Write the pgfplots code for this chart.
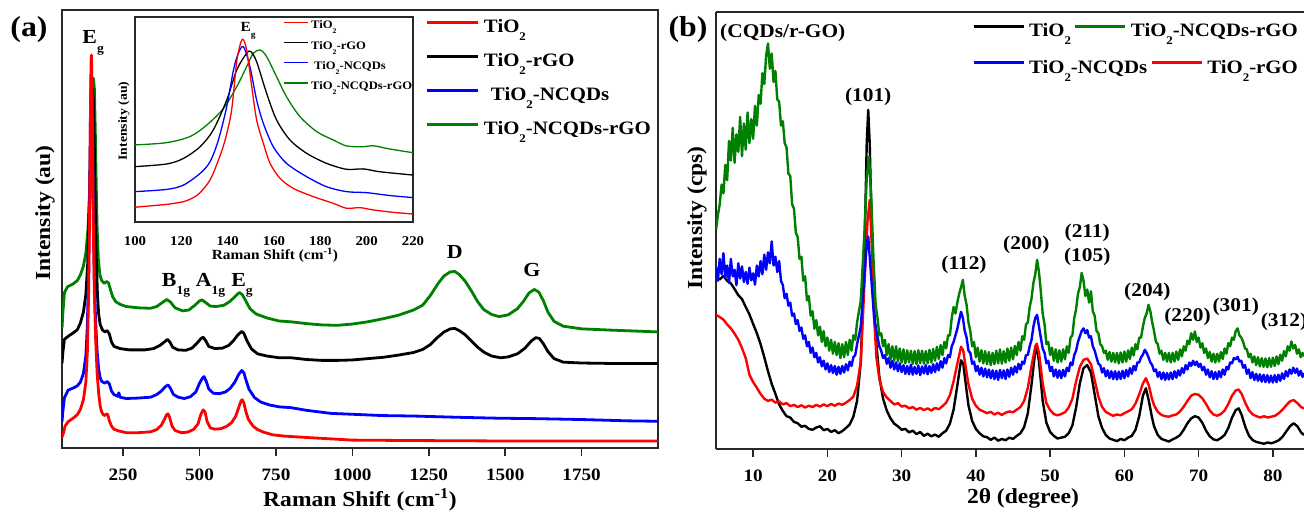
\documentclass[border=0pt]{standalone}
\usepackage{fontspec}
\setmainfont{Liberation Serif}[FakeStretch=1.1]
\usepackage{graphicx}
\usepackage{pgfplots}
\pgfplotsset{compat=1.18}
\newcommand\fs[1]{\fontsize{#1}{#1}\selectfont\bfseries}
\newcommand\sub[1]{\raisebox{-0.42em}{\scalebox{0.62}{#1}}}
\definecolor{ogreen}{RGB}{0,128,0}
\definecolor{frame}{RGB}{40,40,40}
\begin{document}
\begin{tikzpicture}[x=1bp,y=1bp]
\useasboundingbox (0,0) rectangle (1304,513);
\pgfplotsset{
  base/.style={anchor=south west, scale only axis, clip mode=individual,
    ymin=0, ymax=100, ytick=\empty, tick align=outside, major tick length=8bp,
    tick style={line width=1.6bp, frame},
    axis line style={line width=1.6bp, frame},
    xticklabel style={font=\fs{17.5}, yshift=-9bp},
    legend cell align=left},
}
% ---------------- panel (a) main ----------------
\begin{axis}[base, at={(62bp,65bp)}, width=596bp, height=438bp,
  xmin=50, xmax=2000, xtick pos=bottom,
  xtick={250,500,750,1000,1250,1500,1750},
  xticklabels={250,500,750,1000,1250,1500,1750},
  legend style={at={(0.6107,0.978)}, anchor=north west, draw=none, fill=none,
    inner sep=0pt, outer sep=0pt, row sep=16bp, column sep=4bp, font=\fs{19},
    nodes={inner sep=0pt, text height=13bp, text depth=5bp}},
  legend image code/.code={\draw[#1] (0bp,6.5bp) -- (51bp,6.5bp);}]
\addplot[forget plot, ogreen, line width=2.8bp, line join=round] coordinates {
(50,27.3)(53,31)(58,35.5)(68,36.8)(85,37.4)(100,38.2)(110,39.5)(120,41.5)(128,44.5)(135,50)(141,60)(146,72)(150,81)(153,84.4)(156,82)(159,72)(162,60)(165,50)(169,43)(174,39.5)(180,38.2)(188,37.6)(196,38.0)(202,37.7)(208,36.3)(216,34.5)(226,33.4)(240,32.8)(260,32.3)(300,32.0)(340,31.9)(360,32.3)(378,33.2)(393,33.9)(405,33.3)(420,32.0)(445,31.3)(465,31.5)(485,32.6)(500,33.6)(508,33.8)(520,33.2)(535,32.4)(555,32.3)(580,32.6)(600,33.5)(615,34.5)(630,35.5)(640,35.0)(652,33.5)(665,31.8)(685,30.6)(720,29.7)(760,29.0)(800,28.8)(850,28.4)(900,28.1)(950,28.0)(1000,28.3)(1050,28.8)(1100,29.5)(1150,30.3)(1200,31.5)(1230,32.6)(1255,34.8)(1280,37.5)(1300,39.3)(1320,40.2)(1335,40.3)(1350,39.6)(1370,38.0)(1390,35.8)(1410,33.4)(1430,31.6)(1455,30.5)(1480,30.0)(1510,30.4)(1540,31.8)(1560,33.5)(1578,35.4)(1595,36.2)(1610,35.6)(1625,33.6)(1640,31.0)(1660,28.9)(1690,27.8)(1750,27.2)(1850,26.9)(2000,26.5)};
\addplot[forget plot, black, line width=2.8bp, line join=round] coordinates {
(50,19.3)(53,22)(58,24.8)(70,25.5)(85,26.2)(100,27.0)(110,28.5)(120,31)(128,35)(134,42)(139,54)(143,66)(147,77)(150,82)(153,79)(156,68)(159,55)(162,44)(166,35)(170,30.5)(175,28.2)(182,27.0)(190,26.5)(198,26.8)(205,26.0)(212,24.2)(220,23.2)(240,22.7)(270,22.4)(320,22.4)(350,22.7)(370,23.4)(385,24.2)(395,24.8)(403,24.2)(412,23.0)(430,22.4)(455,22.3)(475,22.8)(490,23.8)(505,25.0)(512,25.3)(520,24.5)(530,23.2)(550,22.7)(575,22.8)(595,23.4)(612,24.6)(625,25.8)(638,26.6)(645,26.2)(655,24.5)(670,22.6)(690,21.5)(720,21.0)(760,20.6)(800,20.6)(850,20.2)(900,20.0)(950,20.0)(1000,20.1)(1050,20.4)(1100,20.7)(1150,21.2)(1200,21.8)(1230,22.5)(1255,23.6)(1278,25.2)(1300,26.5)(1320,27.2)(1335,27.3)(1350,26.8)(1370,25.8)(1390,24.4)(1410,23.0)(1430,21.9)(1455,21.0)(1485,20.6)(1510,20.8)(1540,21.5)(1565,22.8)(1585,24.4)(1600,25.2)(1612,25.0)(1625,23.8)(1640,22.0)(1660,20.4)(1690,19.6)(1750,19.4)(1850,19.3)(2000,19.3)};
\addplot[forget plot, blue, line width=2.8bp, line join=round] coordinates {
(50,6.0)(53,8.5)(58,11.5)(70,13.2)(80,13.5)(90,13.8)(100,14.2)(110,15.0)(120,17)(128,21)(133,28)(137,40)(140,55)(143,75)(145,84)(146,86)(147,84.5)(149,76)(151,63)(153,50)(156,38)(160,29)(165,22)(170,18)(175,16)(180,15.2)(190,14.8)(198,15.2)(205,14.6)(212,13.0)(220,12.2)(232,11.8)(236,12.6)(240,11.6)(260,11.3)(300,11.4)(340,11.6)(360,12.2)(375,13.0)(388,14.0)(397,14.4)(405,13.6)(415,12.2)(430,11.6)(450,11.3)(470,11.7)(488,12.8)(500,14.8)(510,16.0)(515,16.3)(522,15.2)(530,13.5)(545,12.5)(565,12.4)(585,12.8)(600,13.6)(615,15.0)(628,16.8)(638,17.7)(645,17.2)(652,15.5)(662,13.4)(680,11.5)(700,10.5)(730,9.8)(760,9.4)(800,9.2)(850,8.6)(930,7.9)(1000,7.7)(1100,7.4)(1200,7.3)(1350,7.0)(1480,6.8)(1600,6.7)(1750,6.5)(1900,6.2)(2000,6.1)};
\addplot[forget plot, red, line width=2.8bp, line join=round] coordinates {
(50,2.5)(55,3.5)(60,5.0)(70,6.0)(80,6.5)(90,7.0)(100,7.6)(110,8.8)(120,11.0)(128,15)(133,22)(137,35)(140,52)(143,76)(145,88)(146,89.7)(147,88)(149,78)(151,62)(153,48)(156,35)(160,25)(165,17)(170,12.5)(175,9.5)(180,8.2)(185,7.6)(190,7.4)(196,7.8)(200,7.6)(205,6.2)(212,5.0)(220,4.3)(235,3.9)(260,3.5)(300,3.5)(340,3.7)(360,4.2)(375,5.2)(385,6.5)(392,7.6)(397,7.8)(402,7.0)(410,5.0)(420,4.0)(440,3.5)(460,3.6)(480,4.2)(495,5.5)(505,7.8)(512,8.7)(518,8.2)(525,6.0)(535,4.6)(550,4.3)(570,4.4)(590,5.0)(605,5.8)(618,7.2)(628,9.2)(636,10.8)(640,11.0)(645,10.3)(652,8.2)(660,6.5)(675,5.0)(690,4.2)(710,3.6)(740,3.0)(780,2.7)(850,2.4)(950,2.0)(1000,1.8)(1200,1.7)(1500,1.6)(1750,1.6)(2000,1.6)};
\addlegendimage{red, line width=3bp}\addlegendentry{TiO\sub{2}}
\addlegendimage{black, line width=3bp}\addlegendentry{TiO\sub{2}-rGO}
\addlegendimage{blue, line width=3bp}\addlegendentry{\hspace*{7bp}TiO\sub{2}-NCQDs}
\addlegendimage{ogreen, line width=3bp}\addlegendentry{TiO\sub{2}-NCQDs-rGO}
\node[font=\fs{20}, inner sep=0pt] at (axis cs:152,92.5) {E\sub{g}};
\node[font=\fs{20}, inner sep=0pt] at (axis cs:423,37.2) {B\sub{1g}};
\node[font=\fs{20}, inner sep=0pt] at (axis cs:536,37.2) {A\sub{1g}};
\node[font=\fs{20}, inner sep=0pt] at (axis cs:639,37.2) {E\sub{g}};
\node[font=\fs{20}, inner sep=0pt] at (axis cs:1335,44.7) {D};
\node[font=\fs{20}, inner sep=0pt] at (axis cs:1587,40.6) {G};
\end{axis}
% ---------------- panel (a) inset ----------------
\begin{axis}[base, at={(135bp,291bp)}, width=278bp, height=205bp,
  xmin=100, xmax=220, xtick pos=bottom, major tick length=0pt,
  axis line style={line width=1.2bp, frame},
  xtick={100,120,140,160,180,200,220},
  xticklabels={100,120,140,160,180,200,220},
  xticklabel style={font=\fs{13.5}, yshift=-2bp},
  legend style={at={(0.532,0.983)}, anchor=north west, draw=none, fill=none,
    inner sep=0pt, outer sep=0pt, row sep=8.8bp, column sep=3bp, font=\fs{11.5},
    nodes={inner sep=0pt, text height=8.5bp, text depth=3bp}},
  legend image code/.code={\draw[#1] (0bp,4bp) -- (24bp,4bp);}]
\addplot[forget plot, ogreen, line width=1.3bp, smooth] coordinates {
(100,37.6)(113.7,38.7)(123.8,41.7)(131,47.3)(138.2,55.4)(143.9,66)(148.2,75.8)(151.1,82.3)(154,83.9)(156.8,80.7)(161.1,70.9)(165.4,61.1)(171.2,51.4)(178.4,44.1)(185.6,40)(191.3,37.1)(198.5,36.7)(202.8,37.2)(210,35.6)(220,33.8)};
\addplot[forget plot, black, line width=1.3bp, smooth] coordinates {
(100,27)(113.7,28.3)(120.9,31)(128.1,36.7)(133.8,44.9)(139.6,59.5)(143.9,74.1)(148.2,82.3)(150,83.1)(152.5,78.2)(156.8,62.8)(161.1,49.8)(166.9,40)(174.1,33.5)(182.7,28.6)(191.3,25.7)(198.5,25.9)(205.7,24.5)(220,22.9)};
\addplot[forget plot, blue, line width=1.3bp, smooth] coordinates {
(100,14.8)(113.7,15.9)(120.9,18)(128.1,23.7)(132.4,29.4)(136,40)(139.6,56.3)(142.5,74.1)(144.5,82)(146.8,85.5)(149.6,75.8)(152.5,59.5)(155.4,48.1)(159.7,36.7)(165.4,28.6)(174.1,22.1)(182.7,17.2)(191.3,14.8)(200,14.3)(210,12.9)(220,11.9)};
\addplot[forget plot, red, line width=1.3bp, smooth] coordinates {
(100,7.2)(106,7.8)(113.7,8.6)(120.9,9.9)(125,11.8)(128.1,14.3)(132.4,20.5)(136,30.2)(138.9,40)(141.7,54.6)(144,79)(146.3,89.1)(148.2,83.9)(150.4,66)(152.5,49.8)(155.4,38.4)(158.3,28.6)(162.6,21.3)(168.3,16.4)(176.9,12.4)(185.6,9.1)(191.3,6.7)(197.1,7.0)(202.8,5.9)(211.5,4.7)(220,3.9)};
\addlegendimage{red, line width=1.3bp}\addlegendentry{TiO\sub{2}}
\addlegendimage{black, line width=1.3bp}\addlegendentry{TiO\sub{2}-rGO}
\addlegendimage{blue, line width=1.3bp}\addlegendentry{\hspace*{3bp}TiO\sub{2}-NCQDs}
\addlegendimage{ogreen, line width=1.3bp}\addlegendentry{TiO\sub{2}-NCQDs-rGO}
\node[font=\fs{14}, inner sep=0pt] at (axis cs:148.8,93.2) {E\sub{g}};
\end{axis}
% ---------------- panel (b) ----------------
\begin{axis}[base, at={(716bp,64bp)}, width=588bp, height=437bp,
  xmin=5, xmax=84.2, axis x line*=box, axis y line*=left, xtick pos=bottom,
  xtick={10,20,30,40,50,60,70,80}, xticklabels={10,20,30,40,50,60,70,80},
  legend columns=-1,
  legend style={at={(0.4354,0.973)}, anchor=north west, draw=none, fill=none,
    inner sep=0pt, outer sep=0pt, column sep=4bp, font=\fs{19},
    /tikz/every even column/.append style={column sep=3bp},
    nodes={inner sep=0pt, text height=13bp, text depth=5bp}},
  legend image code/.code={\draw[#1] (0bp,6.5bp) -- (50bp,6.5bp);}]
\addplot[forget plot, black, line width=2.4bp, line join=round] coordinates {
(5,39.5)(5.5,38.8)(6,39.6)(6.5,38.5)(7,37.9)(7.5,36.6)(8,35.2)(8.5,34.3)(9,32.5)(9.5,30.8)(10,28.6)(10.5,26.5)(11,24.0)(11.5,21.0)(12,17.8)(12.5,14.9)(13,12.6)(13.5,10.2)(14,8.7)(14.5,7.5)(15,7.2)(15.5,6.2)(16,5.9)(16.5,5.1)(17,5.3)(17.5,4.6)(18,4.4)(18.5,4.9)(19,5.2)(19.5,4.3)(20,4.6)(20.5,3.9)(21,4.3)(21.5,3.6)(22,4.1)(22.5,4.8)(23,5.6)(23.5,7.4)(24,11)(24.5,20)(25,45)(25.3,70)(25.5,77.6)(25.7,70)(26,48)(26.3,32)(26.6,24)(27,16.5)(27.5,11.5)(28,8.8)(28.5,7.0)(29,5.8)(29.5,5.2)(30,4.4)(30.5,4.6)(31,3.8)(31.5,4.2)(32,3.4)(32.5,3.9)(33,3.0)(33.5,3.5)(34,2.9)(34.5,3.3)(35,2.8)(35.5,3.6)(36,4.2)(36.5,5.8)(37,9)(37.5,14.5)(38,20.3)(38.3,19.5)(38.7,14)(39,10)(39.5,6.4)(40,4.6)(40.5,3.6)(41,2.9)(41.5,2.7)(42,2.1)(42.5,2.6)(43,1.9)(43.5,2.3)(44,2.0)(44.5,2.6)(45,2.3)(45.5,3.0)(46,3.6)(46.5,5.0)(47,8.2)(47.5,14.8)(48,22.5)(48.2,23.4)(48.5,20)(49,11)(49.5,6.0)(50,3.9)(50.5,3.0)(51,2.4)(51.5,2.6)(52,2.8)(52.5,3.6)(53,5.4)(53.5,9.5)(54,15.0)(54.5,18.5)(55,19.2)(55.5,17.5)(56,12.5)(56.5,7.5)(57,4.8)(57.5,3.2)(58,2.4)(58.5,2.1)(59,1.8)(59.5,2.3)(60,2.0)(60.5,2.6)(61,3.0)(61.5,4.4)(62,7.5)(62.5,12.2)(62.9,13.9)(63.3,11)(63.7,7.4)(64,5.2)(64.5,3.2)(65,2.3)(65.5,2.0)(66,1.7)(66.5,2.2)(67,2.6)(67.5,3.2)(68,4.4)(68.5,5.9)(69,7.0)(69.5,7.5)(70,7.2)(70.5,6.0)(71,4.2)(71.5,2.9)(72,2.2)(72.5,2.0)(73,2.5)(73.5,3.2)(74,4.8)(74.5,7.2)(75,8.9)(75.4,9.3)(75.8,7.8)(76.3,5.0)(76.8,3.0)(77.3,2.0)(77.8,1.6)(78.3,1.4)(78.8,1.2)(79.3,1.5)(79.8,1.3)(80.3,1.6)(80.8,2.0)(81.3,2.8)(81.8,4.0)(82.3,5.2)(82.8,5.9)(83.3,5.2)(83.8,3.8)(84.2,3.2)};
\addplot[forget plot, red, line width=2.4bp, line join=round] coordinates {
(5,30.7)(5.5,30.2)(6,29.6)(6.5,28.5)(7,27.6)(7.5,26.4)(8,25.0)(8.5,23.1)(9,20.8)(9.5,17.0)(10,15.3)(10.5,14.0)(11,12.6)(11.5,11.5)(12,11.0)(12.5,11.3)(13,10.6)(13.5,10.9)(14,10.2)(14.5,10.5)(15,9.8)(15.5,10.1)(16,9.6)(16.5,10.0)(17,9.5)(17.5,9.9)(18,9.6)(18.5,10.1)(19,9.7)(19.5,10.2)(20,9.8)(20.5,10.3)(21,9.9)(21.5,10.4)(22,10.1)(22.5,10.6)(23,11.2)(23.5,12.0)(24,14.5)(24.5,20)(25,38)(25.4,52)(25.7,57)(26,46)(26.3,30)(26.6,21)(27,16)(27.5,13)(28,11.8)(28.5,11.0)(29,10.2)(29.5,10.5)(30,9.7)(30.5,9.9)(31,9.3)(31.5,9.6)(32,9.0)(32.5,9.4)(33,8.9)(33.5,9.3)(34,8.8)(34.5,9.4)(35,9.1)(35.5,9.8)(36,10.6)(36.5,12.3)(37,15.5)(37.5,19.5)(38,23.4)(38.3,22.5)(38.7,18)(39,14.8)(39.5,11.5)(40,9.9)(40.5,9.0)(41,8.6)(41.5,8.2)(42,8.5)(42.5,7.9)(43,8.3)(43.5,7.8)(44,8.3)(44.5,8.6)(45,8.4)(45.5,9.0)(46,9.6)(46.5,11.0)(47,14.0)(47.5,19)(48,23.5)(48.2,24.1)(48.5,22)(49,15)(49.5,10.5)(50,8.9)(50.5,8.0)(51,7.7)(51.5,8.0)(52,8.4)(52.5,9.5)(53,11.5)(53.5,15.5)(54,18.8)(54.5,20.4)(55,20.7)(55.5,19.4)(56,15.8)(56.5,12.0)(57,9.6)(57.5,8.5)(58,8.0)(58.5,7.6)(59,7.9)(59.5,7.7)(60,8.2)(60.5,8.6)(61,9.1)(61.5,10.4)(62,12.5)(62.5,15.0)(62.9,16.2)(63.3,14.5)(63.7,11.6)(64,10.0)(64.5,8.5)(65,7.8)(65.5,7.5)(66,7.4)(66.5,7.7)(67,7.9)(67.5,8.6)(68,9.7)(68.5,11.0)(69,12.2)(69.5,12.6)(70,12.4)(70.5,11.6)(71,10.3)(71.5,8.8)(72,7.9)(72.5,7.6)(73,8.0)(73.5,8.8)(74,10.3)(74.5,12.2)(75,13.4)(75.4,13.6)(75.8,12.6)(76.3,10.5)(76.8,8.8)(77.3,7.9)(77.8,7.5)(78.3,7.2)(78.8,7.5)(79.3,7.2)(79.8,7.4)(80.3,7.6)(80.8,8.2)(81.3,9.0)(81.8,10.0)(82.3,10.9)(82.8,11.2)(83.3,10.5)(83.8,9.6)(84.2,9.3)};
\addplot[forget plot, blue, line width=2.4bp, line join=round] coordinates {
(5,41.7)(5.25,38.5)(5.5,43.5)(5.75,40.0)(6,44.8)(6.25,39.2)(6.5,42.0)(6.75,38.0)(7,43.5)(7.25,39.5)(7.5,41.0)(7.75,37.5)(8,42.5)(8.25,39.0)(8.5,41.8)(8.75,38.2)(9,40.5)(9.25,37.8)(9.5,41.5)(9.75,38.6)(10,40.2)(10.25,37.6)(10.5,42.0)(10.75,39.5)(11,43.0)(11.25,40.0)(11.5,44.5)(11.75,41.0)(12,45.0)(12.25,42.5)(12.5,47.5)(12.75,42.0)(13,44.0)(13.25,40.5)(13.5,43.0)(13.75,38.5)(14,37.5)(14.25,34.5)(14.5,35.5)(14.75,32.8)(15,33.5)(15.25,30.5)(15.5,31.0)(15.75,28.6)(16,29.5)(16.25,27.0)(16.5,27.8)(16.75,25.2)(17,26.0)(17.25,23.5)(17.5,24.5)(17.75,22.0)(18,23.2)(18.25,21.0)(18.5,22.0)(18.75,19.8)(19,21.0)(19.25,18.9)(19.5,20.2)(19.75,18.2)(20,19.6)(20.25,17.6)(20.5,19.2)(20.75,17.4)(21,19.0)(21.25,17.0)(21.5,18.8)(21.75,17.2)(22,19.0)(22.25,17.5)(22.5,19.4)(22.75,18.0)(23,20.0)(23.25,19.0)(23.5,21.0)(23.75,21.5)(24,24.0)(24.5,28.0)(25,40.0)(25.3,47.0)(25.5,48.6)(25.7,44.0)(26,37.0)(26.3,30.0)(26.6,27.0)(27,23.5)(27.25,22.5)(27.5,20.8)(27.75,21.5)(28,19.5)(28.25,20.8)(28.5,18.6)(28.75,20.2)(29,18.2)(29.25,19.8)(29.5,17.8)(29.75,19.6)(30,17.6)(30.25,19.2)(30.5,17.2)(30.75,19.0)(31,17.1)(31.25,19.3)(31.5,17.0)(31.75,18.8)(32,17.2)(32.25,19.1)(32.5,16.9)(32.75,18.9)(33,17.3)(33.25,19.2)(33.5,17.1)(33.75,19.0)(34,17.4)(34.25,19.4)(34.5,17.6)(34.75,19.6)(35,18.0)(35.25,20.1)(35.5,18.6)(35.75,20.8)(36,19.6)(36.25,21.5)(36.5,21.0)(36.75,23.5)(37,24.5)(37.25,26.0)(37.5,27.5)(37.75,29.5)(38,31.4)(38.25,30.0)(38.5,27.0)(38.75,25.5)(39,22.5)(39.25,22.0)(39.5,19.5)(39.75,20.0)(40,17.8)(40.25,19.0)(40.5,17.0)(40.75,18.6)(41,16.6)(41.25,18.4)(41.5,16.4)(41.75,18.2)(42,16.2)(42.25,18.0)(42.5,16.0)(42.75,17.9)(43,15.8)(43.25,18.1)(43.5,16.2)(43.75,18.0)(44,16.0)(44.25,18.2)(44.5,16.5)(44.75,18.6)(45,17.0)(45.25,18.9)(45.5,17.5)(45.75,19.5)(46,18.2)(46.25,20.0)(46.5,19.5)(46.75,21.5)(47,21.5)(47.25,23.5)(47.5,25.0)(47.75,28.0)(48,30.0)(48.25,30.7)(48.5,28.0)(48.75,25.5)(49,23.0)(49.25,22.0)(49.5,19.6)(49.75,20.2)(50,17.8)(50.25,18.8)(50.5,16.6)(50.75,18.2)(51,16.3)(51.25,18.0)(51.5,16.2)(51.75,18.1)(52,16.6)(52.25,18.6)(52.5,17.8)(52.75,19.8)(53,19.2)(53.25,21.5)(53.5,22.5)(53.75,24.5)(54,25.8)(54.25,27.0)(54.5,27.6)(54.75,26.5)(55,27.2)(55.25,25.5)(55.5,25.8)(55.75,23.5)(56,22.5)(56.25,21.0)(56.5,19.5)(56.75,19.2)(57,17.5)(57.25,18.5)(57.5,16.6)(57.75,18.0)(58,16.2)(58.25,17.8)(58.5,16.0)(58.75,17.8)(59,15.9)(59.25,17.7)(59.5,16.0)(59.75,17.9)(60,16.2)(60.25,18.1)(60.5,16.6)(60.75,18.5)(61,17.2)(61.25,19.0)(61.5,18.0)(61.75,19.8)(62,19.8)(62.25,21.0)(62.5,21.6)(62.75,22.7)(63,22.0)(63.25,21.0)(63.5,19.8)(63.75,19.2)(64,17.8)(64.25,18.2)(64.5,16.5)(64.75,17.6)(65,16.0)(65.25,17.5)(65.5,15.8)(65.75,17.4)(66,15.9)(66.25,17.5)(66.5,16.0)(66.75,17.8)(67,16.3)(67.25,18.0)(67.5,16.8)(67.75,18.5)(68,17.4)(68.25,19.2)(68.5,18.2)(68.75,19.8)(69,19.0)(69.25,20.2)(69.5,19.2)(69.75,20.0)(70,18.8)(70.25,19.5)(70.5,18.0)(70.75,18.8)(71,17.0)(71.25,18.2)(71.5,16.4)(71.75,17.8)(72,16.0)(72.25,17.6)(72.5,16.0)(72.75,17.8)(73,16.4)(73.25,18.2)(73.5,17.0)(73.75,18.8)(74,18.2)(74.25,19.8)(74.5,19.6)(74.75,20.8)(75,20.5)(75.25,21.1)(75.5,20.0)(75.75,20.2)(76,18.6)(76.25,19.2)(76.5,17.2)(76.75,18.2)(77,16.2)(77.25,17.6)(77.5,15.8)(77.75,17.2)(78,15.6)(78.25,17.1)(78.5,15.4)(78.75,17.0)(79,15.3)(79.25,16.9)(79.5,15.2)(79.75,16.8)(80,15.2)(80.25,16.9)(80.5,15.3)(80.75,17.0)(81,15.6)(81.25,17.3)(81.5,16.0)(81.75,17.8)(82,16.6)(82.25,18.2)(82.5,17.2)(82.75,18.6)(83,17.4)(83.25,18.4)(83.5,16.8)(83.75,17.9)(84,16.5)(84.2,17.4)};
\addplot[forget plot, ogreen, line width=2.4bp, line join=round] coordinates {
(5,50.1)(5.25,53.5)(5.5,56.0)(5.75,60.5)(6,58.5)(6.25,65.0)(6.5,61.5)(6.75,70.5)(7,66.0)(7.25,73.5)(7.5,65.5)(7.75,72.0)(8,68.0)(8.25,76.0)(8.5,67.0)(8.75,74.5)(9,68.5)(9.25,77.0)(9.5,70.0)(9.75,75.5)(10,71.0)(10.25,78.5)(10.5,74.0)(10.75,81.0)(11,79.0)(11.25,86.0)(11.5,83.5)(11.75,90.0)(12,92.8)(12.25,87.0)(12.5,90.5)(12.75,84.0)(13,86.5)(13.25,80.0)(13.5,79.5)(13.75,74.0)(14,75.0)(14.25,70.0)(14.5,69.0)(14.75,63.0)(15,62.5)(15.25,56.0)(15.5,55.0)(15.75,49.5)(16,48.5)(16.25,43.5)(16.5,44.0)(16.75,38.5)(17,39.5)(17.25,34.0)(17.5,35.0)(17.75,30.5)(18,31.5)(18.25,27.5)(18.5,29.5)(18.75,26.0)(19,28.0)(19.25,24.5)(19.5,27.0)(19.75,23.5)(20,25.5)(20.25,22.5)(20.5,25.0)(20.75,21.8)(21,24.5)(21.25,21.5)(21.5,24.2)(21.75,20.8)(22,24.0)(22.25,21.0)(22.5,24.5)(22.75,21.5)(23,25.0)(23.25,22.5)(23.5,26.0)(23.75,25.0)(24,29.0)(24.5,34.0)(25,50.0)(25.3,62.0)(25.6,66.9)(25.9,58.0)(26.2,44.0)(26.5,33.0)(26.75,30.0)(27,26.0)(27.25,26.5)(27.5,23.5)(27.75,25.0)(28,21.5)(28.25,24.0)(28.5,20.5)(28.75,23.5)(29,20.2)(29.25,23.5)(29.5,20.0)(29.75,23.0)(30,19.8)(30.25,22.8)(30.5,19.6)(30.75,22.6)(31,19.8)(31.25,22.5)(31.5,19.5)(31.75,22.4)(32,19.4)(32.25,22.6)(32.5,19.6)(32.75,22.5)(33,19.5)(33.25,22.4)(33.5,19.6)(33.75,22.7)(34,19.8)(34.25,22.9)(34.5,20.2)(34.75,23.4)(35,20.6)(35.25,23.8)(35.5,21.5)(35.75,24.5)(36,23.0)(36.25,26.0)(36.5,26.0)(36.75,30.0)(37,32.5)(37.25,31.0)(37.5,33.5)(37.75,35.5)(38,37.0)(38.25,38.7)(38.5,35.0)(38.75,33.0)(39,29.0)(39.25,27.0)(39.5,23.5)(39.75,24.5)(40,21.0)(40.25,23.2)(40.5,20.0)(40.75,22.6)(41,19.6)(41.25,22.4)(41.5,19.4)(41.75,22.2)(42,19.2)(42.25,22.0)(42.5,19.4)(42.75,22.5)(43,19.6)(43.25,22.8)(43.5,19.5)(43.75,22.4)(44,19.8)(44.25,23.0)(44.5,20.2)(44.75,23.2)(45,20.5)(45.25,23.6)(45.5,21.5)(45.75,24.5)(46,22.5)(46.25,25.8)(46.5,25.0)(46.75,28.5)(47,29.0)(47.25,32.5)(47.5,34.5)(47.75,38.0)(48,40.0)(48.25,43.3)(48.5,40.5)(48.75,36.0)(49,31.0)(49.25,28.5)(49.5,24.0)(49.75,24.5)(50,21.5)(50.25,23.2)(50.5,20.2)(50.75,22.8)(51,19.8)(51.25,22.6)(51.5,20.0)(51.75,22.8)(52,20.5)(52.25,23.5)(52.5,22.0)(52.75,25.5)(53,26.0)(53.25,30.0)(53.5,32.0)(53.75,35.5)(54,37.0)(54.25,40.3)(54.5,38.5)(54.75,35.0)(55,36.5)(55.25,33.5)(55.5,36.1)(55.75,31.5)(56,30.5)(56.25,27.0)(56.5,26.5)(56.75,24.0)(57,23.5)(57.25,22.0)(57.5,22.5)(57.75,20.4)(58,22.2)(58.25,20.0)(58.5,22.0)(58.75,19.8)(59,22.0)(59.25,19.6)(59.5,22.1)(59.75,19.8)(60,22.3)(60.25,20.0)(60.5,22.6)(60.75,20.6)(61,23.2)(61.25,21.4)(61.5,24.0)(61.75,22.8)(62,25.5)(62.25,25.5)(62.5,28.0)(62.75,30.0)(63,31.0)(63.25,33.0)(63.5,31.5)(63.75,29.0)(64,27.0)(64.25,24.5)(64.5,24.0)(64.75,21.8)(65,22.5)(65.25,20.4)(65.5,22.0)(65.75,20.0)(66,22.0)(66.25,19.8)(66.5,22.0)(66.75,20.0)(67,22.3)(67.25,20.4)(67.5,22.8)(67.75,21.2)(68,23.5)(68.25,22.5)(68.5,24.8)(68.75,24.0)(69,26.5)(69.25,25.0)(69.5,26.9)(69.75,24.5)(70,25.5)(70.25,23.2)(70.5,24.2)(70.75,22.0)(71,23.0)(71.25,20.8)(71.5,22.2)(71.75,20.0)(72,21.8)(72.25,19.8)(72.5,21.8)(72.75,20.0)(73,22.2)(73.25,20.6)(73.5,23.0)(73.75,21.8)(74,24.2)(74.25,23.5)(74.5,25.5)(74.75,25.0)(75,27.0)(75.25,27.6)(75.5,26.0)(75.75,25.5)(76,24.5)(76.25,23.0)(76.5,22.8)(76.75,21.0)(77,21.8)(77.25,19.8)(77.5,21.2)(77.75,19.2)(78,21.0)(78.25,18.9)(78.5,20.8)(78.75,18.8)(79,20.7)(79.25,18.7)(79.5,20.8)(79.75,18.8)(80,20.9)(80.25,19.0)(80.5,21.2)(80.75,19.4)(81,21.6)(81.25,20.2)(81.5,22.4)(81.75,21.2)(82,23.5)(82.25,22.5)(82.5,24.6)(82.75,23.0)(83,23.8)(83.25,21.8)(83.5,22.8)(83.75,21.0)(84,22.0)(84.2,21.2)};
\addlegendimage{black, line width=3bp}\addlegendentry{TiO\sub{2}}
\addlegendimage{ogreen, line width=3bp}\addlegendentry{TiO\sub{2}-NCQDs-rGO}
\node[font=\fs{19.5}, inner sep=0pt, anchor=west] at (axis cs:5.54,95.2) {(CQDs/r-GO)};
\node[font=\fs{19.5}, inner sep=0pt] at (axis cs:25.5,80.5) {(101)};
\node[font=\fs{19.5}, inner sep=0pt] at (axis cs:38.4,42.1) {(112)};
\node[font=\fs{19.5}, inner sep=0pt] at (axis cs:46.8,46.7) {(200)};
\node[font=\fs{19.5}, inner sep=0pt] at (axis cs:55,49.4) {(211)};
\node[font=\fs{19.5}, inner sep=0pt] at (axis cs:55,43.9) {(105)};
\node[font=\fs{19.5}, inner sep=0pt] at (axis cs:63.1,35.9) {(204)};
\node[font=\fs{19.5}, inner sep=0pt] at (axis cs:68.5,30.2) {(220)};
\node[font=\fs{19.5}, inner sep=0pt] at (axis cs:75,32.5) {(301)};
\node[font=\fs{19.5}, inner sep=0pt] at (axis cs:81.5,29.1) {(312)};
\end{axis}
% second legend row of panel (b)
\begin{axis}[at={(716bp,64bp)}, anchor=south west, scale only axis, width=588bp, height=437bp,
  hide axis, xmin=0, xmax=1, ymin=0, ymax=1, legend columns=-1, legend cell align=left,
  legend style={at={(0.4354,0.889)}, anchor=north west, draw=none, fill=none,
    inner sep=0pt, outer sep=0pt, column sep=4bp, font=\fs{19},
    /tikz/every even column/.append style={column sep=3bp},
    nodes={inner sep=0pt, text height=13bp, text depth=5bp}},
  legend image code/.code={\draw[#1] (0bp,6.5bp) -- (50bp,6.5bp);}]
\addlegendimage{blue, line width=3bp}\addlegendentry{TiO\sub{2}-NCQDs}
\addlegendimage{red, line width=3bp}\addlegendentry{TiO\sub{2}-rGO}
\end{axis}
% ---------------- labels ----------------
\node[font=\fs{29}, inner sep=0pt] at (29,483) {(a)};
\node[font=\fs{29}, inner sep=0pt] at (688,483) {(b)};
\node[font=\fs{21.5}, inner sep=0pt] at (360,13) {Raman Shift (cm\textsuperscript{-1})};
\node[font=\fs{21.5}, inner sep=0pt] at (1023,15) {2θ (degree)};
\node[font=\fs{21.5}, inner sep=0pt, rotate=90] at (45,300) {Intensity (au)};
\node[font=\fs{21.5}, inner sep=0pt, rotate=90] at (697,295) {Intensity (cps)};
\node[font=\fs{12.5}, inner sep=0pt, rotate=90] at (124,392) {Intensity (au)};
\node[font=\fs{14}, inner sep=0pt] at (275,258) {Raman Shift (cm\textsuperscript{-1})};
\end{tikzpicture}
\end{document}
